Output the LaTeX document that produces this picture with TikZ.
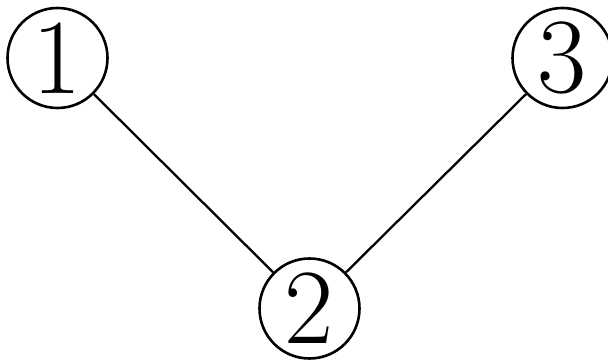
\documentclass[tikz,border=0pt]{standalone}
\begin{document}
\begin{tikzpicture}[x=1pt,y=1pt,
  vert/.style={circle,draw,line width=2.6pt,minimum size=100pt,inner sep=0pt,font=\fontsize{107}{107}\selectfont},
  edge/.style={line width=2.3pt}]
\useasboundingbox (0,0) rectangle (608,361);
\node[vert] (a) at (57.5,303) {1};
\node[vert] (b) at (309.5,52.5) {2};
\node[vert] (c) at (562.5,303) {3};
\draw[edge] (a) -- (b);
\draw[edge] (b) -- (c);
\end{tikzpicture}
\end{document}
